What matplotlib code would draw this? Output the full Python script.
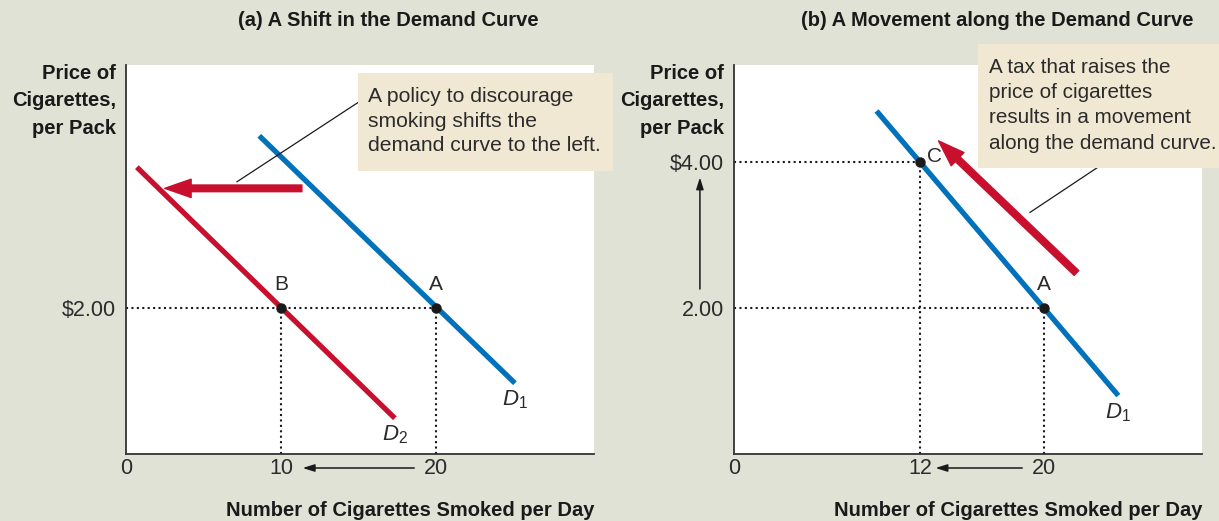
import matplotlib
matplotlib.use("Agg")
import matplotlib.pyplot as plt
from matplotlib.patches import Rectangle

# ---------------- data ----------------
xlim = (0, 30.2)
ylim = (0, 5.33)

# Panel (a)
a_xticks = [0, 10, 20]
a_xticklabels = ["0", "10", "20"]
a_yticks = [2]
a_yticklabels = ["$2.00"]
a_D1_x = [8.6, 25.1]
a_D1_y = [4.36, 0.97]
a_D2_x = [0.7, 17.35]
a_D2_y = [3.93, 0.49]
a_points_x = [10, 20]
a_points_y = [2, 2]
a_point_labels = ["B", "A"]
a_shift_tail = (11.35, 3.64)
a_shift_tip = (2.5, 3.64)

# Panel (b)
b_xticks = [0, 12, 20]
b_xticklabels = ["0", "12", "20"]
b_yticks = [2, 4]
b_yticklabels = ["2.00", "$4.00"]
b_D1_x = [9.2, 24.8]
b_D1_y = [4.70, 0.80]
b_points_x = [12, 20]
b_points_y = [4, 2]
b_point_labels = ["C", "A"]
b_move_tail = (22.1, 2.48)
b_move_tip = (13.2, 4.29)

# ---------------- style ----------------
BG = "#dfe2d4"
BOX = "#f0e8d2"
BLUE = "#0072bc"
RED = "#c8102e"
TXT = "#2b2b2b"
FONT = ["Liberation Sans", "DejaVu Sans"]

plt.rcParams["font.family"] = FONT
plt.rcParams["mathtext.fontset"] = "custom"
plt.rcParams["mathtext.rm"] = "Liberation Sans"
plt.rcParams["mathtext.it"] = "Liberation Sans:italic"

W, H = 1219, 521
fig = plt.figure(figsize=(W / 100, H / 100), dpi=100, facecolor=BG)


def fx(px):
    return px / W


def fy(py):
    return 1 - py / H


def make_axes(left_px):
    ax = fig.add_axes([fx(left_px), fy(454), (594 - 126) / W, (454 - 65) / H])
    ax.set_facecolor("white")
    ax.set_xlim(*xlim)
    ax.set_ylim(*ylim)
    for s in ["top", "right"]:
        ax.spines[s].set_visible(False)
    for s in ["left", "bottom"]:
        ax.spines[s].set_color("#333333")
        ax.spines[s].set_linewidth(1.3)
    ax.tick_params(length=0, labelsize=15.5, labelcolor=TXT)
    ax.tick_params(axis="x", pad=3)
    ax.tick_params(axis="y", pad=7)
    return ax


dot_kw = dict(color="#1a1a1a", linestyle=(0, (1, 1.6)), linewidth=1.5, zorder=1)
line_kw = dict(linewidth=3.8, solid_capstyle="butt", zorder=2)


def small_arrow(ax, x_from, x_to):
    ax.annotate("", xy=(x_to, -0.036), xytext=(x_from, -0.036),
                xycoords=("data", "axes fraction"), textcoords=("data", "axes fraction"),
                arrowprops=dict(arrowstyle="-|>,head_length=0.7,head_width=0.22",
                                color="#1a1a1a", lw=1.1, shrinkA=0, shrinkB=0),
                annotation_clip=False)


def red_arrow(ax, tail, tip):
    ax.annotate("", xy=tip, xytext=tail,
                arrowprops=dict(arrowstyle="simple,head_length=0.95,head_width=0.66,tail_width=0.24",
                                color=RED, mutation_scale=20, shrinkA=0, shrinkB=0),
                zorder=3)


# ================= Panel (a) =================
axa = make_axes(126)
axa.set_xticks(a_xticks, a_xticklabels)
axa.set_yticks(a_yticks, a_yticklabels)

axa.plot([0, a_points_x[1]], [a_points_y[1], a_points_y[1]], **dot_kw)
for x, y in zip(a_points_x, a_points_y):
    axa.plot([x, x], [0, y], **dot_kw)

axa.plot(a_D1_x, a_D1_y, color=BLUE, **line_kw)
axa.plot(a_D2_x, a_D2_y, color=RED, **line_kw)
axa.plot(a_points_x, a_points_y, "o", color="#1a1a1a", markersize=6.5, zorder=4)
for x, y, lab in zip(a_points_x, a_points_y, a_point_labels):
    axa.annotate(lab, (x, y), xytext=(0, 10), textcoords="offset points",
                 ha="center", va="bottom", fontsize=15, color=TXT)

axa.annotate("$D_1$", (a_D1_x[1], a_D1_y[1]), xytext=(0, -4), textcoords="offset points",
             ha="center", va="top", fontsize=16, color=TXT)
axa.annotate("$D_2$", (a_D2_x[1], a_D2_y[1]), xytext=(0, -4), textcoords="offset points",
             ha="center", va="top", fontsize=16, color=TXT)

red_arrow(axa, a_shift_tail, a_shift_tip)

# callout
axa.add_patch(Rectangle((15.0, 3.88), 16.4, 1.34, facecolor=BOX, edgecolor="none",
                        clip_on=False, zorder=5))
axa.plot([7.16, 15.0], [3.73, 4.82], color="#1a1a1a", lw=0.9, zorder=3)
axa.text(15.6, 4.56, "A policy to discourage\nsmoking shifts the\ndemand curve to the left.",
         ha="left", va="center", fontsize=15.2, color=TXT, linespacing=1.35, zorder=6)

small_arrow(axa, 18.6, 11.4)

# ================= Panel (b) =================
axb = make_axes(734)
axb.set_xticks(b_xticks, b_xticklabels)
axb.set_yticks(b_yticks, b_yticklabels)

for x, y in zip(b_points_x, b_points_y):
    axb.plot([0, x], [y, y], **dot_kw)
    axb.plot([x, x], [0, y], **dot_kw)

axb.plot(b_D1_x, b_D1_y, color=BLUE, **line_kw)
axb.plot(b_points_x, b_points_y, "o", color="#1a1a1a", markersize=6.5, zorder=4)
axb.annotate(b_point_labels[0], (b_points_x[0], b_points_y[0]), xytext=(5, 4),
             textcoords="offset points", ha="left", va="center", fontsize=15, color=TXT)
axb.annotate(b_point_labels[1], (b_points_x[1], b_points_y[1]), xytext=(0, 10),
             textcoords="offset points", ha="center", va="bottom", fontsize=15, color=TXT)
axb.annotate("$D_1$", (b_D1_x[1], b_D1_y[1]), xytext=(0, -4), textcoords="offset points",
             ha="center", va="top", fontsize=16, color=TXT)

red_arrow(axb, b_move_tail, b_move_tip)

axb.add_patch(Rectangle((15.74, 3.92), 16.0, 1.70, facecolor=BOX, edgecolor="none",
                        clip_on=False, zorder=5))
axb.plot([19.1, 23.7], [3.31, 3.96], color="#1a1a1a", lw=0.9, zorder=3)
axb.text(16.45, 4.78, "A tax that raises the\nprice of cigarettes\nresults in a movement\nalong the demand curve.",
         ha="left", va="center", fontsize=14.9, color=TXT, linespacing=1.42, zorder=6,
         clip_on=False)

small_arrow(axb, 18.6, 13.0)
axb.annotate("", xy=(-2.2, 3.79), xytext=(-2.2, 2.26),
             arrowprops=dict(arrowstyle="-|>,head_length=0.7,head_width=0.22",
                             color="#1a1a1a", lw=1.1, shrinkA=0, shrinkB=0),
             annotation_clip=False)

# ================= figure-level text =================
bold = dict(fontweight="bold", color="#1a1a1a", fontsize=14.5)
for ax_left, title, cx in [(126, "(a) A Shift in the Demand Curve", 388),
                           (734, "(b) A Movement along the Demand Curve", 997)]:
    fig.text(fx(cx), fy(20), title, ha="center", va="center", **bold)
    fig.text(fx(ax_left - 10), fy(101), "Price of\nCigarettes,\nper Pack", ha="right",
             va="center", linespacing=1.55, **bold)
    fig.text(fx(ax_left + 468), fy(511), "Number of Cigarettes Smoked per Day",
             ha="right", va="center", **bold)

fig.savefig("out.png", dpi=100, facecolor=BG)
